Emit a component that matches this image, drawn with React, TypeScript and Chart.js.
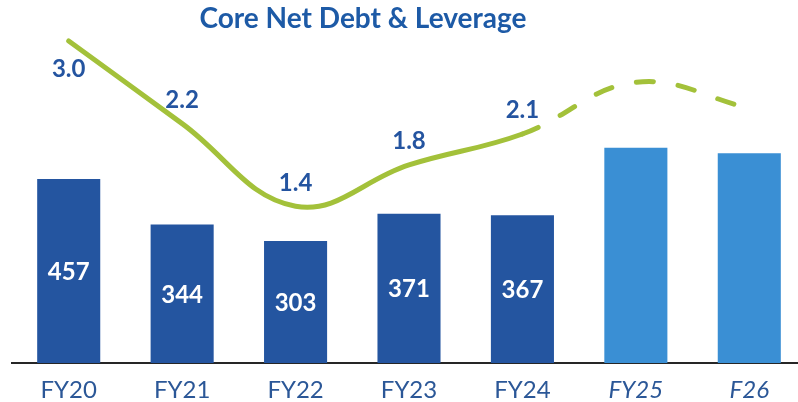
import React, { useEffect, useRef } from "react";
import { Chart, registerables } from "chart.js";

Chart.register(...registerables);

const categories = ["FY20", "FY21", "FY22", "FY23", "FY24", "FY25", "F26"];
const netDebt = [457, 344, 303, 371, 367, 535, 521];
const leverage = [3.0, 2.2, 1.4, 1.8, 2.1, 2.6, 2.35];
const debtLabels = ["457", "344", "303", "371", "367", "", ""];
const leverageLabels = ["3.0", "2.2", "1.4", "1.8", "2.1", "", ""];
const actualCount = 5;
const titleText = "Core Net Debt & Leverage";

const DARK = "#2455a0";
const LIGHT = "#3a8fd4";
const GREEN = "#a3c13a";
const LABEL_BLUE = "#2454a0";
const TITLE_BLUE = "#1d5aa6";
const FONT = "Lato, 'Open Sans', sans-serif";

const labelsPlugin = {
  id: "customLabels",
  afterDatasetsDraw(chart: any) {
    const ctx = chart.ctx;
    const barMeta = chart.getDatasetMeta(0);
    const lineMeta = chart.getDatasetMeta(1);
    ctx.save();
    ctx.font = `bold 24px ${FONT}`;
    ctx.textAlign = "center";
    ctx.textBaseline = "alphabetic";
    ctx.fillStyle = "#ffffff";
    barMeta.data.forEach((el: any, i: number) => {
      if (!debtLabels[i]) return;
      const p = el.getProps(["x", "y", "base"], true);
      ctx.fillText(debtLabels[i], p.x, (p.y + p.base) / 2 + 9);
    });
    ctx.fillStyle = LABEL_BLUE;
    lineMeta.data.forEach((el: any, i: number) => {
      if (!leverageLabels[i]) return;
      const cy = i === 0 ? el.y + 27.5 : el.y - 24;
      ctx.fillText(leverageLabels[i], el.x, cy + 8.5);
    });
    ctx.restore();
  },
  afterDraw(chart: any) {
    const ctx = chart.ctx;
    ctx.save();
    ctx.font = `bold 28px ${FONT}`;
    ctx.textAlign = "center";
    ctx.textBaseline = "alphabetic";
    ctx.fillStyle = TITLE_BLUE;
    ctx.fillText(titleText, 363, 28);
    ctx.restore();
  },
};

export default function App() {
  const ref = useRef<HTMLCanvasElement | null>(null);
  useEffect(() => {
    if (!ref.current) return;
    const chart = new Chart(ref.current, {
      type: "bar",
      data: {
        labels: categories,
        datasets: [
          {
            type: "bar",
            data: netDebt,
            backgroundColor: netDebt.map((_, i) => (i < actualCount ? DARK : LIGHT)),
            categoryPercentage: 1,
            barPercentage: 0.556,
            yAxisID: "y",
            order: 1,
          },
          {
            type: "line",
            data: leverage,
            borderColor: GREEN,
            borderWidth: 5,
            borderCapStyle: "round",
            borderJoinStyle: "round",
            pointRadius: 0,
            tension: 0.4,
            fill: false,
            clip: false,
            yAxisID: "y1",
            order: 0,
            segment: {
              borderDash: (c: any) => (c.p0DataIndex >= actualCount - 1 ? [17, 25] : undefined),
            },
          } as any,
        ],
      },
      options: {
        animation: false,
        responsive: false,
        layout: { padding: { left: 12, right: 4, top: 41, bottom: 0 } },
        plugins: {
          legend: { display: false },
          tooltip: { enabled: false },
          title: { display: false },
        },
        scales: {
          x: {
            grid: { display: false, drawTicks: false },
            border: { display: true, color: "#262626", width: 2 },
            ticks: {
              color: "#2b5797",
              padding: 15,
              maxRotation: 0,
              autoSkip: false,
              font: (c: any) => ({
                family: FONT,
                size: 24,
                style: c.index >= actualCount ? "italic" : "normal",
                lineHeight: 1,
              }),
            },
          },
          y: { display: false, min: 0, max: 800 },
          y1: { display: false, min: -0.117, max: 3.0, position: "right" },
        },
      },
      plugins: [labelsPlugin],
    } as any);
    return () => chart.destroy();
  }, []);
  return (
    <div
      style={{
        position: "fixed",
        left: 0,
        top: 0,
        width: 798,
        height: 402,
        overflow: "hidden",
        background: "#ffffff",
      }}
    >
      <canvas ref={ref} width={810} height={417} style={{ display: "block", width: 810, height: 417 }} />
    </div>
  );
}
